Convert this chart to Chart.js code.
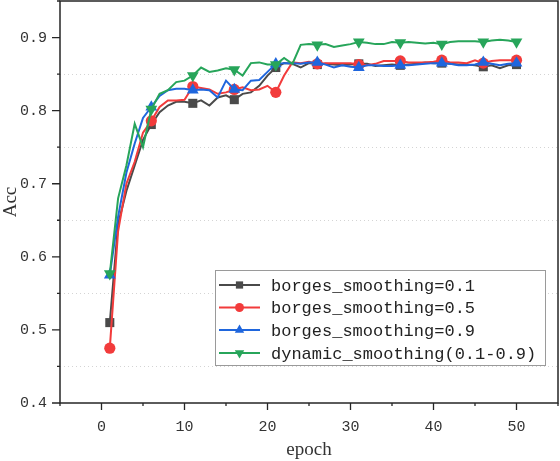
<!DOCTYPE html>
<html lang="en">
<head>
    <meta charset="UTF-8">
    <title>Acc vs epoch</title>
    <script src="https://cdn.jsdelivr.net/npm/chart.js"></script>
    <style>
        body, html {
            margin: 0;
            padding: 0;
            background: #fff;
        }
        #wrap {
            width: 560px;
            height: 461px;
        }
    </style>
</head>
<body>
    <div id="wrap"><canvas id="accChart" width="560" height="461"></canvas></div>

    <script>
        // epochs 1..50
        const epochs = [];
        for (let e = 1; e <= 50; e++) epochs.push(e);

        // epochs that carry a marker
        const markEpochs = [1, 6, 11, 16, 21, 26, 31, 36, 41, 46, 50];

        const seriesNames = [
            'borges_smoothing=0.1',
            'borges_smoothing=0.5',
            'borges_smoothing=0.9',
            'dynamic_smoothing(0.1-0.9)'
        ];

        const bs01 = [0.510, 0.645, 0.690, 0.725, 0.760, 0.781, 0.798, 0.807, 0.812, 0.812,
                      0.810, 0.814, 0.807, 0.818, 0.821, 0.815, 0.823, 0.825, 0.834, 0.848,
                      0.859, 0.865, 0.864, 0.859, 0.865, 0.863, 0.864, 0.863, 0.862, 0.863,
                      0.864, 0.864, 0.861, 0.862, 0.863, 0.862, 0.863, 0.864, 0.866, 0.865,
                      0.865, 0.864, 0.863, 0.863, 0.862, 0.860, 0.862, 0.858, 0.862, 0.863];

        const bs05 = [0.475, 0.635, 0.700, 0.730, 0.770, 0.786, 0.805, 0.814, 0.814, 0.815,
                      0.833, 0.831, 0.829, 0.823, 0.825, 0.829, 0.832, 0.828, 0.829, 0.834,
                      0.825, 0.848, 0.866, 0.865, 0.867, 0.864, 0.865, 0.865, 0.865, 0.865,
                      0.863, 0.862, 0.864, 0.868, 0.868, 0.868, 0.866, 0.866, 0.866, 0.867,
                      0.869, 0.866, 0.866, 0.865, 0.869, 0.865, 0.868, 0.869, 0.869, 0.869];

        const bs09 = [0.575, 0.655, 0.715, 0.755, 0.790, 0.805, 0.820, 0.828, 0.830, 0.830,
                      0.828, 0.829, 0.828, 0.818, 0.841, 0.829, 0.828, 0.841, 0.842, 0.853,
                      0.864, 0.865, 0.865, 0.864, 0.866, 0.866, 0.863, 0.859, 0.862, 0.860,
                      0.859, 0.862, 0.862, 0.861, 0.861, 0.862, 0.862, 0.863, 0.864, 0.865,
                      0.865, 0.864, 0.862, 0.862, 0.863, 0.866, 0.864, 0.862, 0.864, 0.865];

        const dyn = [0.577, 0.680, 0.725, 0.782, 0.750, 0.802, 0.823, 0.828, 0.839, 0.841,
                     0.848, 0.859, 0.853, 0.855, 0.858, 0.856, 0.848, 0.865, 0.866, 0.863,
                     0.863, 0.872, 0.864, 0.890, 0.891, 0.890, 0.891, 0.887, 0.889, 0.891,
                     0.894, 0.893, 0.891, 0.891, 0.894, 0.893, 0.894, 0.893, 0.892, 0.893,
                     0.891, 0.894, 0.895, 0.895, 0.895, 0.894, 0.896, 0.897, 0.896, 0.894];

        const xTicksMajor = [0, 10, 20, 30, 40, 50];
        const yTicksMajor = [0.4, 0.5, 0.6, 0.7, 0.8, 0.9];

        const colors = ['#4a4a4a', '#f23b3b', '#1f66dd', '#27a55a'];
        const styles = [
            { pointStyle: 'rect', radius: 6.4, rotation: 0 },
            { pointStyle: 'circle', radius: 5.6, rotation: 0 },
            { pointStyle: 'triangle', radius: 6.8, rotation: 0 },
            { pointStyle: 'triangle', radius: 6.8, rotation: 180 }
        ];

        const allValues = [bs01, bs05, bs09, dyn];

        const isMajorY = v => Math.abs(Math.round(v * 100) % 10) === 0;
        const isMajorX = v => Math.round(v) % 10 === 0;

        // frame, tick marks, minor grid and legend
        const framePlugin = {
            id: 'frame',
            beforeDatasetsDraw(chart) {
                const ctx = chart.ctx;
                const a = chart.chartArea;
                const ys = chart.scales.y;
                ctx.save();
                ctx.strokeStyle = '#d4d4d4';
                ctx.lineWidth = 1;
                ctx.setLineDash([1, 3]);
                for (let v = 0.45; v < 0.95; v += 0.1) {
                    const py = Math.round(ys.getPixelForValue(v)) + 0.5;
                    ctx.beginPath();
                    ctx.moveTo(a.left, py);
                    ctx.lineTo(a.right, py);
                    ctx.stroke();
                }
                ctx.restore();
            },
            afterDraw(chart) {
                const ctx = chart.ctx;
                const a = chart.chartArea;
                const xs = chart.scales.x;
                const ys = chart.scales.y;
                ctx.save();
                ctx.strokeStyle = '#262626';
                ctx.lineWidth = 1.5;
                ctx.strokeRect(a.left, a.top, a.right - a.left, a.bottom - a.top);

                ctx.lineWidth = 1.3;
                ctx.beginPath();
                xs.ticks.forEach(t => {
                    const px = xs.getPixelForValue(t.value);
                    const len = isMajorX(t.value) ? 7 : 3;
                    ctx.moveTo(px, a.bottom);
                    ctx.lineTo(px, a.bottom + len);
                });
                ys.ticks.forEach(t => {
                    const py = ys.getPixelForValue(t.value);
                    const len = isMajorY(t.value) ? 8 : 3;
                    ctx.moveTo(a.left, py);
                    ctx.lineTo(a.left - len, py);
                });
                ctx.stroke();

                // legend
                const lx = 215, ly = 270, lw = 330, lh = 95;
                ctx.fillStyle = '#fff';
                ctx.fillRect(lx, ly, lw, lh);
                ctx.strokeStyle = '#9a9a9a';
                ctx.lineWidth = 1;
                ctx.strokeRect(lx + 0.5, ly + 0.5, lw, lh);
                const rowY = [285, 307.5, 330, 353];
                ctx.font = '17px "Liberation Mono", monospace';
                ctx.textBaseline = 'middle';
                seriesNames.forEach((name, i) => {
                    const y = rowY[i];
                    ctx.strokeStyle = colors[i];
                    ctx.lineWidth = 2;
                    ctx.beginPath();
                    ctx.moveTo(219, y);
                    ctx.lineTo(260, y);
                    ctx.stroke();
                    ctx.fillStyle = colors[i];
                    Chart.helpers.drawPoint(ctx, {
                        pointStyle: styles[i].pointStyle,
                        radius: styles[i].radius * 0.8,
                        rotation: styles[i].rotation,
                        borderWidth: 0
                    }, 239.5, y);
                    ctx.fillStyle = '#222';
                    ctx.fillText(name, 271, y + 1);
                });
                ctx.restore();
            }
        };

        const datasets = allValues.map((vals, i) => ({
            label: seriesNames[i],
            data: epochs.map((e, k) => ({ x: e, y: vals[k] })),
            borderColor: colors[i],
            backgroundColor: colors[i],
            borderWidth: 2,
            tension: 0,
            pointStyle: styles[i].pointStyle,
            pointRotation: styles[i].rotation,
            pointBorderWidth: 0,
            pointRadius: ctx => markEpochs.includes(epochs[ctx.dataIndex]) ? styles[i].radius : 0,
            order: 4 - i
        }));

        new Chart(document.getElementById('accChart'), {
            type: 'line',
            data: { datasets },
            options: {
                responsive: false,
                animation: false,
                layout: {
                    autoPadding: false,
                    padding: { top: 1, right: 2, left: 0, bottom: 0 }
                },
                plugins: {
                    legend: { display: false },
                    tooltip: { enabled: false }
                },
                scales: {
                    x: {
                        type: 'linear',
                        min: -5,
                        max: 55,
                        afterFit: s => {
                            s.height = 58;
                            s.paddingLeft = 0;
                            s.paddingRight = 0;
                        },
                        ticks: {
                            stepSize: 5,
                            autoSkip: false,
                            maxRotation: 0,
                            padding: 15,
                            color: '#333',
                            font: { family: '"Liberation Mono", monospace', size: 15 },
                            callback: v => xTicksMajor.includes(v) ? String(v) : ''
                        },
                        grid: { display: false, drawTicks: false },
                        border: { display: false },
                        title: {
                            display: true,
                            text: 'epoch',
                            color: '#333',
                            padding: { top: 0, bottom: 0 },
                            font: { family: '"Liberation Serif", serif', size: 19 }
                        }
                    },
                    y: {
                        min: 0.4,
                        max: 0.95,
                        afterFit: s => {
                            s.width = 60;
                            s.paddingTop = 0;
                            s.paddingBottom = 0;
                        },
                        ticks: {
                            stepSize: 0.05,
                            autoSkip: false,
                            padding: 13,
                            color: '#333',
                            font: { family: '"Liberation Mono", monospace', size: 15 },
                            callback: v => {
                                const hit = yTicksMajor.find(m => Math.abs(m - v) < 1e-6);
                                return hit !== undefined ? hit.toFixed(1) : '';
                            }
                        },
                        grid: { display: false, drawTicks: false },
                        border: { display: false },
                        title: {
                            display: true,
                            text: 'Acc',
                            color: '#333',
                            padding: { top: 0, bottom: 0 },
                            font: { family: '"Liberation Serif", serif', size: 19 }
                        }
                    }
                }
            },
            plugins: [framePlugin]
        });
    </script>
</body>
</html>
